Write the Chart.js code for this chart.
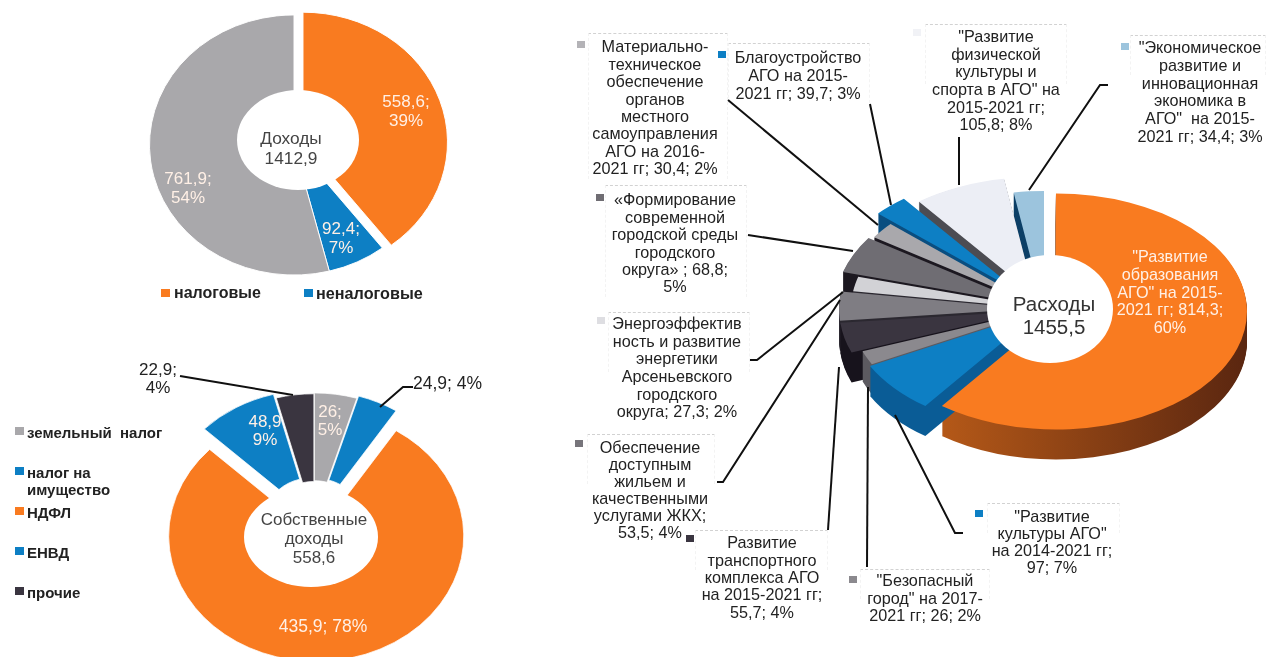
<!DOCTYPE html>
<html lang="ru"><head><meta charset="utf-8">
<script src="https://cdn.jsdelivr.net/npm/chart.js@4"></script>
<style>
html,body{margin:0;padding:0;background:#fff;width:1266px;height:657px;overflow:hidden}
#page{position:relative;width:1266px;height:657px;overflow:hidden;font-family:"Liberation Sans",Arial,sans-serif;color:#222;filter:blur(.45px)}
canvas{position:absolute}
.hole{position:absolute;background:#fff;border-radius:50%}
.txt{position:absolute;transform:translateX(-50%);text-align:center;white-space:pre}
.ltxt{position:absolute;white-space:pre}
.sw{position:absolute}
.box{position:absolute;border-left:1px dashed #f3f3f3;border-right:1px dashed #f3f3f3;border-top:1px dashed #d2d2d2;box-sizing:border-box}
svg{position:absolute;left:0;top:0}
</style></head><body><div id="page"></div>
<script>
// ---------- DATA ----------
const incomeCategories = ["налоговые","неналоговые","прочие доходы"];
const incomeValues = [558.6, 92.4, 761.9];
const incomeColors = ["#f97b20","#0d7fc4","#a9a8ab"];
const incomeExplode = [9.5, 0, 0];

const ownCategories = ["земельный налог","налог на имущество","НДФЛ","ЕНВД","прочие"];
const ownValues = [26, 24.9, 435.9, 48.9, 22.9];
const ownColors = ["#a9a8ab","#0d7fc4","#f97b20","#0d7fc4","#3a3540"];
const ownExplode = [2, 5, 19, 6, 1];

const spendCategories = ["Развитие образования АГО","Развитие культуры АГО","Безопасный город","Развитие транспортного комплекса АГО","Обеспечение доступным жильем и качественными услугами ЖКХ","Энергоэффективность и развитие энергетики","Формирование современной городской среды","Материально-техническое обеспечение органов местного самоуправления","Благоустройство АГО","Развитие физической культуры и спорта в АГО","Экономическое развитие и инновационная экономика в АГО"];
const spendValues = [814.3, 97, 26, 55.7, 53.5, 27.3, 68.8, 30.4, 39.7, 105.8, 34.4];
const spendColors = ["#f97b20","#0d7fc4","#8b898e","#3a3540","#7f7d83","#d2d2d6","#6f6d73","#a9a8ac","#0d7fc4","#eceef5","#9cc4dd"];
const spendWallLeft = ["#cb651a","#0a5c96","#5c5a60","#17131c","#2b2830","#2b2830","#1c1820","#1c1820","#0a4e80","#4c4c52","#0c3f66"];
const spendWallRight = ["#5a2610","#0a5c96","#5c5a60","#17131c","#2b2830","#2b2830","#1c1820","#1c1820","#0a4e80","#4c4c52","#0c3f66"];
const spendExplode = [12.6, 6, 3, 14, 14, 2, 19, 15, 36, 24, 0];

// ---------- TEXT ----------
const incomeCenter = ["Доходы","1412,9"];
const ownCenter = ["Собственные","доходы","558,6"];
const spendCenter = ["Расходы","1455,5"];
const callouts = [
 {lines:["Материально-","техническое","обеспечение","органов","местного","самоуправления","АГО на 2016-","2021 гг; 30,4; 2%"],color:"#b4b3b7"},
 {lines:["Благоустройство","АГО на 2015-","2021 гг; 39,7; 3%"],color:"#0d7fc4"},
 {lines:["«Формирование","современной","городской среды","городского","округа» ; 68,8;","5%"],color:"#6f6d73"},
 {lines:["\"Развитие","физической","культуры и","спорта в АГО\" на","2015-2021 гг;","105,8; 8%"],color:"#f1f2f6"},
 {lines:["\"Экономическое","развитие и","инновационная","экономика в","АГО\"  на 2015-","2021 гг; 34,4; 3%"],color:"#9cc4dd"},
 {lines:["Энергоэффектив","ность и развитие","энергетики","Арсеньевского","городского","округа; 27,3; 2%"],color:"#dedee2"},
 {lines:["Обеспечение","доступным","жильем и","качественными","услугами ЖКХ;","53,5; 4%"],color:"#77757b"},
 {lines:["Развитие","транспортного","комплекса АГО","на 2015-2021 гг;","55,7; 4%"],color:"#3a3540"},
 {lines:["\"Развитие","культуры АГО\"","на 2014-2021 гг;","97; 7%"],color:"#0d7fc4"},
 {lines:["\"Безопасный","город\" на 2017-","2021 гг; 26; 2%"],color:"#8b898e"}
];

// ---------- LAYOUT ----------
const calloutPlace = [
 {cx:655,y:47,step:17.4,sx:577,sy:41,box:[588,33,140,146]},
 {cx:798,y:57,step:18,sx:718,sy:51,box:[728,43,142,60]},
 {cx:675,y:200,step:17.4,sx:596,sy:194,box:[605,185,142,112]},
 {cx:996,y:37,step:17.6,sx:913,sy:29,box:[925,24,142,60]},
 {cx:1200,y:48,step:17.7,sx:1121,sy:43,box:[1130,35,136,40]},
 {cx:677,y:324,step:17.6,sx:597,sy:317,box:[608,312,142,60]},
 {cx:650,y:447,step:17,sx:575,sy:440,box:[587,434,128,50]},
 {cx:762,y:543,step:17.3,sx:686,sy:535,box:[695,530,133,40]},
 {cx:1052,y:516,step:17,sx:975,sy:510,box:[987,503,133,30]},
 {cx:925,y:581,step:17.5,sx:849,sy:576,box:[860,569,130,30]}
];
const leaders = [
 [[728,100],[878,225]],[[870,104],[891,205]],[[748,235],[853,251]],
 [[959,137],[959,185]],[[1108,85],[1100,85],[1029,190]],
 [[750,360],[757,360],[843,292]],[[717,482],[723,482],[840,300]],
 [[828,530],[839,367]],[[867,567],[868,387]],[[963,533],[955,533],[895,415]],
 [[180,376],[293,395]],[[413,387],[403,387],[380,407]]
];

const page = document.getElementById('page');

function tiltPlugin(tilt, explode, depth, wallL, wallR){
  return {
    id:'tilt',
    afterDatasetsUpdate(chart){
      chart.getDatasetMeta(0).data.forEach((el,i)=>{
        const m=(el.startAngle+el.endAngle)/2;
        el.x+=Math.cos(m)*explode[i];
        el.y+=Math.sin(m)*explode[i];
      });
    },
    beforeDatasetsDraw(chart){
      const c=chart.ctx,a=chart.chartArea,cy=(a.top+a.bottom)/2;
      c.save();
      c.translate(0,cy);c.scale(1,tilt);c.translate(0,-cy);
      if(!depth)return;
      const els=[...chart.getDatasetMeta(0).data].map((el,i)=>({el,i}))
        .sort((p,q)=>Math.sin((p.el.startAngle+p.el.endAngle)/2)-Math.sin((q.el.startAngle+q.el.endAngle)/2));
      els.forEach(({el,i})=>{
        const g=c.createLinearGradient(el.x-el.outerRadius,0,el.x+el.outerRadius,0);
        g.addColorStop(0,wallL[i]);g.addColorStop(1,wallR[i]);
        c.fillStyle=g;
        for(let d=depth;d>=1;d--){
          c.beginPath();
          c.moveTo(el.x,el.y+d/tilt);
          c.arc(el.x,el.y+d/tilt,el.outerRadius,el.startAngle,el.endAngle);
          c.closePath();c.fill();
        }
      });
    },
    afterDatasetsDraw(chart){chart.ctx.restore();}
  };
}

function makeChart(cx,cy,size,type,radius,labels,values,colors,border,tilt,explode,depth,wl,wr){
  const cv=document.createElement('canvas');
  cv.width=size;cv.height=size;
  cv.style.left=(cx-size/2)+'px';cv.style.top=(cy-size/2)+'px';
  cv.style.width=size+'px';cv.style.height=size+'px';
  page.appendChild(cv);
  return new Chart(cv,{
    type,
    data:{labels,datasets:[{data:values,backgroundColor:colors,borderColor:'#fff',borderWidth:border,clip:false}]},
    options:{responsive:false,animation:false,radius,cutout:type==='pie'?0:'30%',
      layout:{padding:0},plugins:{legend:{display:false},tooltip:{enabled:false}}},
    plugins:[tiltPlugin(tilt,explode,depth,wl,wr)]
  });
}

makeChart(294,145,320,'doughnut',144.5,incomeCategories,incomeValues,incomeColors,1,0.9,incomeExplode,0);
makeChart(314,520,350,'doughnut',147.5,ownCategories,ownValues,ownColors,0.8,0.85,ownExplode,0);
makeChart(1044,309,460,'pie',191,spendCategories,spendValues,spendColors,0,0.618,spendExplode,30,spendWallLeft,spendWallRight);

function hole(cx,cy,rx,ry){
  const d=document.createElement('div');d.className='hole';
  d.style.cssText=`left:${cx-rx}px;top:${cy-ry}px;width:${2*rx}px;height:${2*ry}px`;
  page.appendChild(d);
}
hole(298,140,61,50);hole(311,537,67,50);hole(1050,309,63,54);

// leader lines + dashed label boxes
calloutPlace.forEach(p=>{
  const b=document.createElement('div');b.className='box';
  b.style.cssText=`left:${p.box[0]}px;top:${p.box[1]}px;width:${p.box[2]}px;height:${p.box[3]}px`;
  page.appendChild(b);
});
const NS='http://www.w3.org/2000/svg';
const svg=document.createElementNS(NS,'svg');svg.setAttribute('width',1266);svg.setAttribute('height',657);
leaders.forEach(l=>{
  const p=document.createElementNS(NS,'polyline');
  p.setAttribute('points',l.map(q=>q.join(',')).join(' '));
  p.setAttribute('fill','none');p.setAttribute('stroke','#101010');p.setAttribute('stroke-width','2');
  svg.appendChild(p);
});
page.appendChild(svg);

function text(lines,cx,y,step,size,opts={}){
  const d=document.createElement('div');d.className='txt';
  d.textContent=lines.join('\n');
  d.style.cssText=`left:${cx}px;top:${y-step/2}px;font-size:${size}px;line-height:${step}px;color:${opts.color||'#222'};font-weight:${opts.weight||'normal'}`;
  page.appendChild(d);
}
function swatch(x,y,w,color){
  const d=document.createElement('div');d.className='sw';
  d.style.cssText=`left:${x}px;top:${y}px;width:${w}px;height:${w-1}px;background:${color}`;
  page.appendChild(d);
}
function legendText(lines,x,y,step,size,weight){
  const d=document.createElement('div');d.className='ltxt';
  d.textContent=lines.join('\n');
  d.style.cssText=`left:${x}px;top:${y-step/2}px;font-size:${size}px;line-height:${step}px;color:#222;font-weight:${weight}`;
  page.appendChild(d);
}

// callouts
callouts.forEach((c,i)=>{
  const p=calloutPlace[i];
  text(c.lines,p.cx,p.y,p.step,16.2);
  swatch(p.sx,p.sy,8,c.color);
});
// centre labels
text(incomeCenter,291,138,20,17.3,{color:'#444'});
text(ownCenter,314,519,19,17,{color:'#444'});
text(spendCenter,1054,303,23,20.5,{color:'#333'});
// slice labels
const W={color:'#fff0e6'};
text(["558,6;","39%"],406,101,19,17,W);
text(["92,4;","7%"],341,228,19,17,W);
text(["761,9;","54%"],188,178,19,17,W);
text(["48,9","9%"],265,422,18,17,W);
text(["26;","5%"],330,412,18,17,W);
text(["435,9; 78%"],323,626,18,17.5,W);
text(["\"Развитие","образования","АГО\" на 2015-","2021 гг; 814,3;","60%"],1170,257,17.8,16.2,W);
text(["22,9;","4%"],158,370,18,17);
legendText(["24,9; 4%"],413,383,18,17.5,'normal');
// legends
swatch(161,289,9,incomeColors[0]);legendText(["налоговые"],174,293,18,16,'bold');
swatch(304,289,9,incomeColors[1]);legendText(["неналоговые"],316,293,18,16.2,'bold');
const ownLegend=[[["земельный  налог"],432,ownColors[0]],[["налог на","имущество"],472,ownColors[1]],[["НДФЛ"],512,ownColors[2]],[["ЕНВД"],552,ownColors[3]],[["прочие"],592,ownColors[4]]];
ownLegend.forEach(l=>{swatch(15,l[1]-5,9,l[2]);legendText(l[0],27,l[1],17,15,'bold');});
</script></body></html>
